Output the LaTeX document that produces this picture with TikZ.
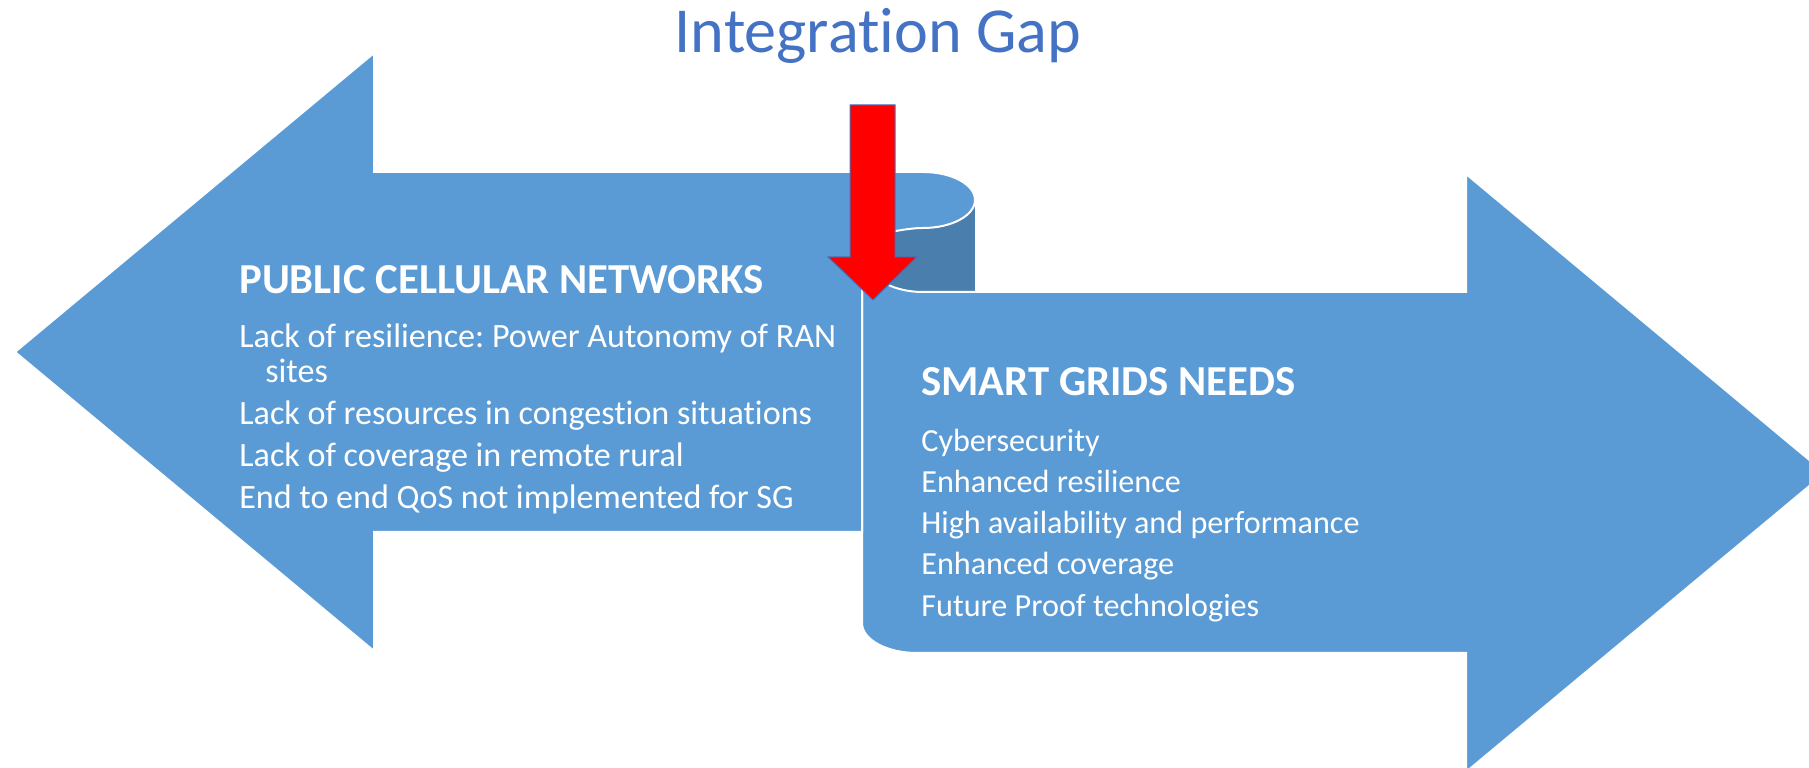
\documentclass[tikz,border=0pt]{standalone}
\usepackage{fontspec}
\setmainfont{Carlito}[Ligatures=NoCommon]
\usepackage{tikz,xcolor}
\usetikzlibrary{calc}
\frenchspacing

\definecolor{arrowblue}{HTML}{5B9BD5}
\definecolor{backblue}{HTML}{4A7EAC}
\definecolor{titleblue}{HTML}{4472C4}

\tikzset{
    bigarrow/.style={fill=arrowblue, draw=white, line width=0.4mm},
    heading/.style={anchor=base west, text=white, inner sep=0pt, font=\fontsize{24.3}{29}\selectfont\bfseries},
    item/.style={anchor=base west, text=white, inner sep=0pt, font=\fontsize{19.4}{23}\selectfont},
    itemr/.style={item, font=\fontsize{18.3}{22}\selectfont},
}

\begin{document}
\begin{tikzpicture}[x=0.2mm, y=-0.2mm]
    \useasboundingbox (0,0) rectangle (1809,768);
    \clip (0,0) rectangle (1809,768);

        % back of the curl
        \fill[backblue] (871,200) rectangle (975,292);

        % right arrow
        \draw[bigarrow] (923,292) -- (1466,292) -- (1466,174) -- (1825,473) -- (1466,772) -- (1466,653) -- (917,653)
            arc[start angle=90, end angle=180, x radius=55, y radius=30] -- (862,264) -- (871,264)
            arc[start angle=180, end angle=90, x radius=52, y radius=28] -- cycle;

        % left arrow
        \draw[bigarrow] (15,352) -- (374,53) -- (374,172) -- (923,172)
            arc[start angle=-90, end angle=90, x radius=52, y radius=28]
            .. controls (905,228) and (885,234) .. (862,236) -- (862,532) -- (374,532) -- (374,651) -- cycle;

        % red arrow
        \draw[fill=red, draw=titleblue, line width=0.2mm] (850,105) -- (895,105) -- (895,257) -- (917,257) -- (873,300) -- (828,257) -- (850,257) -- cycle;

        \node[anchor=base, text=titleblue, inner sep=0pt, font=\fontsize{36.5}{42}\selectfont] (title) at (878,53) {Integration Gap};

        \node[heading] (pcn) at (239,294) {PUBLIC CELLULAR NETWORKS};
        \node[item] (pcn1) at (239,348) {Lack of resilience: Power Autonomy of RAN};
        \node[item] (pcn1b) at (265,383) {sites};
        \node[item] (pcn2) at (239,425) {Lack of resources in congestion situations};
        \node[item] (pcn3) at (239,467) {Lack of coverage in remote rural};
        \node[item] (pcn4) at (239,509) {End to end QoS not implemented for SG};

        \node[heading] (sgn) at (921,396) {SMART GRIDS NEEDS};
        \node[itemr] (sgn1) at (921,452) {Cybersecurity};
        \node[itemr] (sgn2) at (921,493) {Enhanced resilience};
        \node[itemr] (sgn3) at (921,534) {High availability and performance};
        \node[itemr] (sgn4) at (921,575) {Enhanced coverage};
        \node[itemr] (sgn5) at (921,617) {Future Proof technologies};
\end{tikzpicture}
\end{document}
